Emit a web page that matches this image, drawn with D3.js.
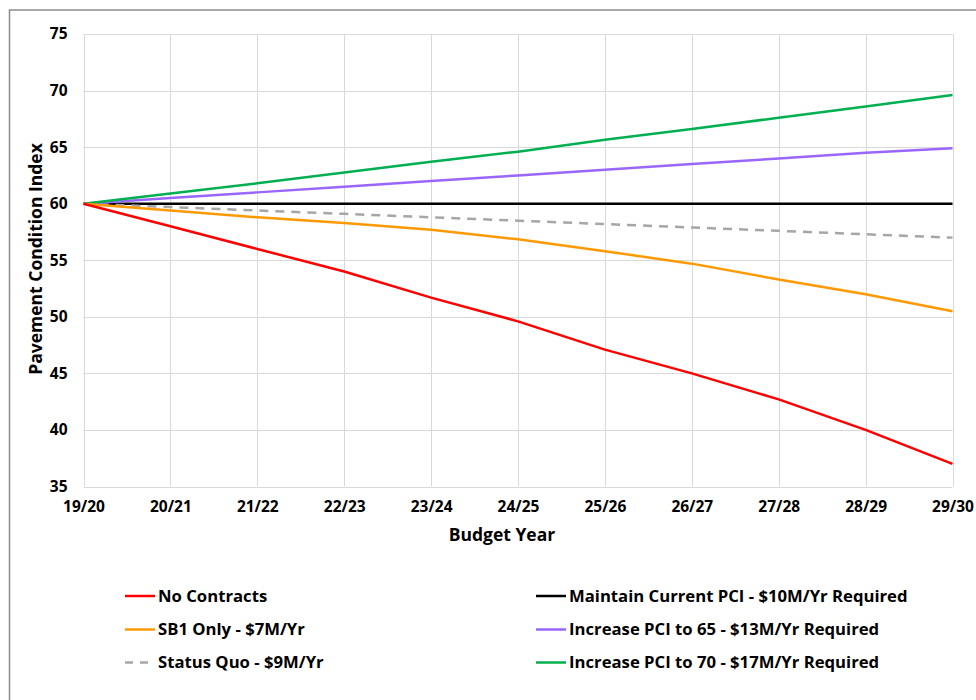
<!DOCTYPE html>
<html>
<head>
<meta charset="utf-8">
<script src="https://cdn.jsdelivr.net/npm/d3@7"></script>
<style>
  html, body { margin: 0; padding: 0; background: #fff; }
  svg { display: block; font-family: "Open Sans", sans-serif; }
</style>
</head>
<body>
<svg id="chart" width="976" height="700"></svg>
<script>
// Budget years on the x axis
const years = ["19/20", "20/21", "21/22", "22/23", "23/24", "24/25", "25/26", "26/27", "27/28", "28/29", "29/30"];

// Projected Pavement Condition Index per funding scenario
const noContracts   = [60, 58.0, 56.0, 54.0, 51.7, 49.6, 47.1, 45.0, 42.7, 40.0, 37.0];
const sb1Only       = [60, 59.4, 58.8, 58.3, 57.7, 56.85, 55.8, 54.7, 53.3, 52.0, 50.5];
const statusQuo     = [60, 59.7, 59.4, 59.1, 58.8, 58.5, 58.2, 57.9, 57.6, 57.3, 57.0];
const maintainPCI   = [60, 60, 60, 60, 60, 60, 60, 60, 60, 60, 60];
const increaseTo65  = [60, 60.5, 61.0, 61.5, 62.0, 62.5, 63.0, 63.5, 64.0, 64.5, 64.9];
const increaseTo70  = [60, 60.9, 61.8, 62.75, 63.7, 64.6, 65.65, 66.6, 67.6, 68.6, 69.6];

const yTicks = [35, 40, 45, 50, 55, 60, 65, 70, 75];

const seriesNames = [
  "No Contracts",
  "SB1 Only - $7M/Yr",
  "Status Quo - $9M/Yr",
  "Maintain Current PCI - $10M/Yr Required",
  "Increase PCI to 65 - $13M/Yr Required",
  "Increase PCI to 70 - $17M/Yr Required"
];
const seriesColors = ["#ff0000", "#ff9900", "#a6a6a6", "#000000", "#9966ff", "#00b050"];
const seriesValues = [noContracts, sb1Only, statusQuo, maintainPCI, increaseTo65, increaseTo70];

const series = seriesNames.map((name, i) => ({
  name,
  color: seriesColors[i],
  dashed: name.startsWith("Status Quo"),
  values: seriesValues[i]
}));

const svg = d3.select("#chart");

// Outer frame
svg.append("rect")
  .attr("x", 9.5).attr("y", 10)
  .attr("width", 1000).attr("height", 720)
  .attr("fill", "none")
  .attr("stroke", "#8c8c8c")
  .attr("stroke-width", 1.5);

const plot = { left: 83.5, right: 952.5, top: 34, bottom: 486.5 };

const x = d3.scalePoint()
  .domain(years)
  .range([plot.left, plot.right]);

const y = d3.scaleLinear()
  .domain([35, 75])
  .range([plot.bottom, plot.top]);

// Gridlines
const grid = svg.append("g");
grid.selectAll("line.h")
  .data(yTicks)
  .join("line")
  .attr("class", "h")
  .attr("x1", plot.left).attr("x2", plot.right)
  .attr("y1", d => Math.round(y(d)) + 0.5).attr("y2", d => Math.round(y(d)) + 0.5)
  .attr("stroke", "#d9d9d9").attr("stroke-width", 1);
grid.selectAll("line.v")
  .data(years)
  .join("line")
  .attr("class", "v")
  .attr("x1", d => Math.round(x(d)) + 0.5).attr("x2", d => Math.round(x(d)) + 0.5)
  .attr("y1", plot.top).attr("y2", plot.bottom)
  .attr("stroke", "#d9d9d9").attr("stroke-width", 1);

// Y axis
const yAxis = svg.append("g")
  .attr("transform", `translate(${plot.left},0)`)
  .call(d3.axisLeft(y).tickValues(yTicks).tickSize(0).tickPadding(16));
yAxis.select(".domain").remove();
yAxis.selectAll("text")
  .attr("font-family", "'Open Sans', sans-serif")
  .attr("font-size", 15.5)
  .attr("font-weight", 700)
  .attr("fill", "#000");

// X axis
const xAxis = svg.append("g")
  .attr("transform", `translate(0,${plot.bottom})`)
  .call(d3.axisBottom(x).tickSize(0).tickPadding(14));
xAxis.select(".domain").remove();
xAxis.selectAll("text")
  .attr("font-family", "'Open Sans', sans-serif")
  .attr("font-size", 15.5)
  .attr("font-weight", 700)
  .attr("fill", "#000");

// Axis titles
svg.append("text")
  .attr("x", 502)
  .attr("y", 541)
  .attr("text-anchor", "middle")
  .attr("font-size", 17.5)
  .attr("font-weight", 700)
  .text("Budget Year");

svg.append("text")
  .attr("transform", `translate(42,259) rotate(-90)`)
  .attr("text-anchor", "middle")
  .attr("font-size", 17.5)
  .attr("font-weight", 700)
  .text("Pavement Condition Index");

// Scenario lines
const line = d3.line()
  .x((d, i) => x(years[i]))
  .y(d => y(d));

// Draw order: flat/dashed first, then rising and falling scenarios on top
const drawOrder = [3, 2, 4, 5, 1, 0];
svg.append("g")
  .selectAll("path")
  .data(drawOrder.map(i => series[i]))
  .join("path")
  .attr("d", d => line(d.values))
  .attr("fill", "none")
  .attr("stroke", d => d.color)
  .attr("stroke-width", 2.5)
  .attr("stroke-dasharray", d => d.dashed ? "9,7" : null)
  .attr("stroke-linejoin", "round");

// Legend: two columns of three rows
const legend = svg.append("g");
const legendCols = [125, 536];
const legendRows = [596, 629.5, 662.5];
series.forEach((s, i) => {
  const col = Math.floor(i / 3);
  const row = i % 3;
  const gx = legendCols[col];
  const gy = legendRows[row];
  const item = legend.append("g").attr("transform", `translate(${gx},${gy})`);
  item.append("line")
    .attr("x1", 0).attr("x2", 30)
    .attr("y1", 0).attr("y2", 0)
    .attr("stroke", s.color)
    .attr("stroke-width", 2.5)
    .attr("stroke-dasharray", s.dashed ? "8,7" : null);
  item.append("text")
    .attr("x", 33)
    .attr("y", 0)
    .attr("dy", "0.35em")
    .attr("font-size", 16.7)
    .attr("font-weight", 700)
    .attr("fill", "#000")
    .text(s.name);
});
</script>
</body>
</html>
